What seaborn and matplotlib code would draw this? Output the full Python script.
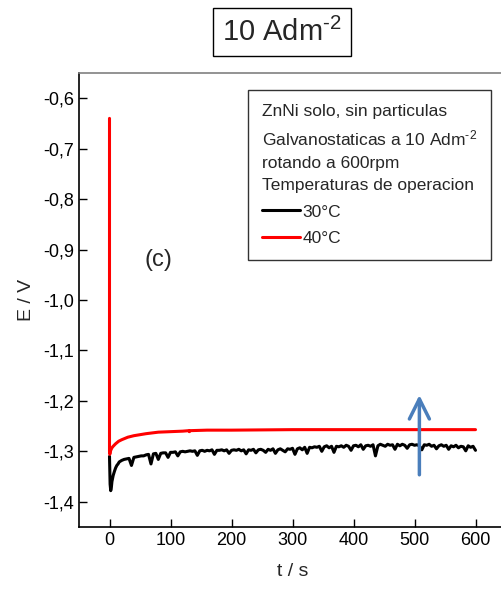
import numpy as np
import pandas as pd
import matplotlib
matplotlib.use("Agg")
import matplotlib.pyplot as plt
from matplotlib.ticker import FuncFormatter
import seaborn as sns

# --- data ---
temps = ["30°C", "40°C"]
line_colors = ["black", "red"]

t_30_early = [0, 0.5, 1, 2, 3, 4, 6, 8, 10, 12, 14, 16]
e_30_early = [-1.310, -1.340, -1.365, -1.378, -1.372, -1.360, -1.348, -1.340,
              -1.333, -1.328, -1.325, -1.321]
t_30_grid = np.arange(20, 601, 4)
e_30_grid = [
    -1.318, -1.316, -1.315, -1.314, -1.328, -1.312, -1.311, -1.310, -1.309, -1.309,
    -1.307, -1.306, -1.325, -1.305, -1.304, -1.316, -1.304, -1.303, -1.303, -1.312,
    -1.302, -1.302, -1.301, -1.309, -1.301, -1.300, -1.301, -1.300, -1.299, -1.300,
    -1.299, -1.308, -1.299, -1.298, -1.300, -1.298, -1.299, -1.297, -1.306, -1.298,
    -1.298, -1.297, -1.299, -1.297, -1.304, -1.298, -1.297, -1.298, -1.296, -1.299,
    -1.297, -1.305, -1.297, -1.298, -1.296, -1.303, -1.297, -1.296, -1.298, -1.302,
    -1.296, -1.298, -1.295, -1.304, -1.297, -1.295, -1.298, -1.301, -1.295, -1.296,
    -1.294, -1.306, -1.295, -1.293, -1.297, -1.292, -1.304, -1.292, -1.293, -1.291,
    -1.292, -1.290, -1.300, -1.291, -1.289, -1.293, -1.290, -1.302, -1.290, -1.291,
    -1.289, -1.292, -1.288, -1.290, -1.298, -1.289, -1.288, -1.291, -1.287, -1.296,
    -1.289, -1.288, -1.290, -1.287, -1.309, -1.289, -1.286, -1.288, -1.290, -1.286,
    -1.288, -1.287, -1.296, -1.286, -1.289, -1.286, -1.288, -1.294, -1.287, -1.286,
    -1.288, -1.287, -1.289, -1.297, -1.287, -1.288, -1.286, -1.290, -1.288, -1.295,
    -1.289, -1.287, -1.290, -1.288, -1.296, -1.289, -1.291, -1.288, -1.293, -1.290,
    -1.291, -1.299, -1.289, -1.292, -1.290, -1.298,
]

t_40 = [0, 0, 0.5, 1, 2, 4, 6, 10, 15, 20, 30, 40, 50, 60, 80, 100, 120,
        130, 131, 132, 160, 200, 300, 400, 500, 600]
e_40 = [-0.640, -1.300, -1.306, -1.303, -1.298, -1.293, -1.290, -1.285, -1.280,
        -1.277, -1.272, -1.269, -1.267, -1.265, -1.262, -1.261, -1.260,
        -1.259, -1.261, -1.259, -1.258, -1.258, -1.257, -1.257, -1.257, -1.257]

x_ticks = [0, 100, 200, 300, 400, 500, 600]
y_ticks = [-1.4, -1.3, -1.2, -1.1, -1.0, -0.9, -0.8, -0.7, -0.6]

legend_title = ("ZnNi solo, sin particulas\n"
                "Galvanostaticas a 10 Adm$^{\\text{-2}}$\n"
                "rotando a 600rpm\n"
                "Temperaturas de operacion")

df_30 = pd.DataFrame({"t": list(t_30_early) + list(t_30_grid),
                      "E": e_30_early + e_30_grid, "temp": temps[0]})
df_40 = pd.DataFrame({"t": t_40, "E": e_40, "temp": temps[1]})
df = pd.concat([df_30, df_40], ignore_index=True)

sns.set_style("ticks")
plt.rcParams["font.family"] = ["Liberation Sans", "DejaVu Sans"]
plt.rcParams["mathtext.fontset"] = "custom"
plt.rcParams["mathtext.rm"] = "Liberation Sans"
plt.rcParams["mathtext.it"] = "Liberation Sans"

fig = plt.figure(figsize=(5.01, 5.98), dpi=100)
ax = fig.add_axes([79 / 501, 71 / 598, 427 / 501, 454 / 598])

sns.lineplot(data=df, x="t", y="E", hue="temp", palette=dict(zip(temps, line_colors)),
             estimator=None, sort=False, linewidth=2.2, legend=False, ax=ax)

ax.set_xlim(-50, 650)
ax.set_ylim(-1.45, -0.55)
ax.set_xticks(x_ticks)
ax.set_yticks(y_ticks)
ax.yaxis.set_major_formatter(FuncFormatter(lambda v, p: f"{v:.1f}".replace(".", ",")))
ax.tick_params(direction="in", length=6, width=1, labelsize=13, colors="black")
ax.set_xlabel("t / s", fontsize=14, labelpad=10)
ax.set_ylabel("E / V", fontsize=14, labelpad=6)
for s in ["left", "bottom", "right"]:
    ax.spines[s].set_color("black")
    ax.spines[s].set_linewidth(1.2)
ax.spines["top"].set_color("#808080")
ax.spines["top"].set_linewidth(1.2)

handles = ax.get_lines()[:2]
leg = ax.legend(handles, temps, title=legend_title, alignment="left",
                loc="upper right", bbox_to_anchor=(0.965, 0.963), borderaxespad=0,
                fontsize=12.5, title_fontsize=12.5, handlelength=2.2, handletextpad=0.15,
                labelspacing=0.65, frameon=True, fancybox=False, borderpad=0.8)
leg.get_frame().set_edgecolor("black")
leg.get_frame().set_linewidth(1)
leg.get_title().set_linespacing(1.6)

ax.text(80, -0.921, "(c)", fontsize=17, ha="center", va="center")
ax.annotate("", xy=(508, -1.183), xytext=(508, -1.352),
            arrowprops=dict(arrowstyle="->", color="#4a7ebb", lw=2.5, mutation_scale=36))

fig.text(282 / 501, 1 - 32 / 598, "10 Adm$^{\\text{-2}}$", fontsize=21, ha="center", va="center",
         bbox=dict(boxstyle="square,pad=0.32", facecolor="white", edgecolor="black", lw=1))

fig.savefig("out.png", dpi=100)
